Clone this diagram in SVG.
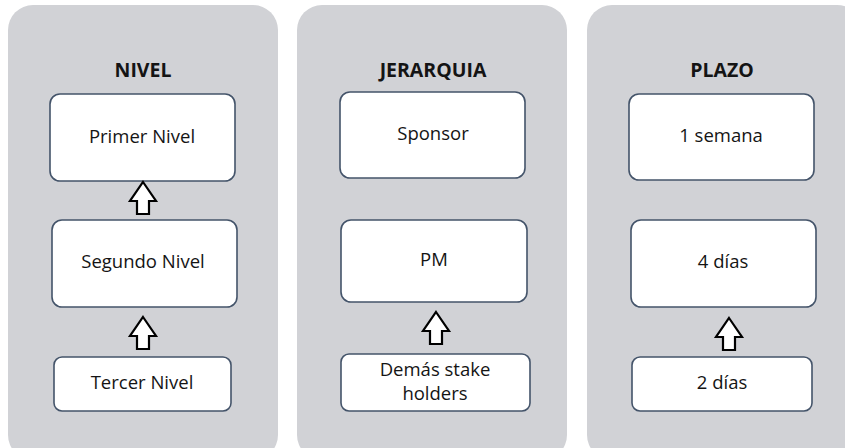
<svg xmlns="http://www.w3.org/2000/svg" width="845" height="448" viewBox="0 0 845 448">
<defs>
<style>
.panel{fill:#d1d2d6;}
.box{fill:#ffffff;stroke:#44546a;stroke-width:1.6;}
.title{font-family:"Open Sans","Liberation Sans",sans-serif;font-weight:bold;font-size:19.5px;fill:#141414;text-anchor:middle;}
.lbl{font-family:"Open Sans","Liberation Sans",sans-serif;font-size:18.5px;fill:#141414;text-anchor:middle;}
.arr{fill:#ffffff;stroke:#000000;stroke-width:2.2;stroke-linejoin:miter;}
</style>
<path id="uparrow" d="M0,0 L13,19 L6,19 L6,32 L-6,32 L-6,19 L-13,19 Z"/>
</defs>
<rect width="845" height="448" fill="#ffffff"/>
<g id="panel-nivel">
<rect class="panel" x="8" y="5" width="270" height="455" rx="25"/>
<text class="title" x="143" y="77">NIVEL</text>
</g>
<g id="panel-jerarquia">
<rect class="panel" x="297" y="5" width="270" height="455" rx="25"/>
<text class="title" x="433" y="77">JERARQUIA</text>
</g>
<g id="panel-plazo">
<rect class="panel" x="587" y="5" width="275" height="455" rx="25"/>
<text class="title" x="722" y="77">PLAZO</text>
</g>
<g id="primer-nivel">
<rect class="box" x="50" y="94" width="185" height="87" rx="10"/>
<text class="lbl" x="142" y="143">Primer Nivel</text>
</g>
<g id="segundo-nivel">
<rect class="box" x="52" y="220" width="185" height="87" rx="10"/>
<text class="lbl" x="143" y="268">Segundo Nivel</text>
</g>
<g id="tercer-nivel">
<rect class="box" x="54" y="357" width="177" height="54" rx="8"/>
<text class="lbl" x="142" y="389">Tercer Nivel</text>
</g>
<g id="sponsor">
<rect class="box" x="340" y="92" width="185" height="86" rx="10"/>
<text class="lbl" x="433" y="140">Sponsor</text>
</g>
<g id="pm">
<rect class="box" x="341" y="220" width="186" height="82" rx="10"/>
<text class="lbl" x="434" y="266">PM</text>
</g>
<g id="demas">
<rect class="box" x="341" y="354" width="189" height="57" rx="8"/>
<text class="lbl" x="435" y="376">Demás stake</text>
<text class="lbl" x="435" y="400">holders</text>
</g>
<g id="semana">
<rect class="box" x="629" y="94" width="185" height="86" rx="10"/>
<text class="lbl" x="721" y="142">1 semana</text>
</g>
<g id="cuatro-dias">
<rect class="box" x="631" y="220" width="185" height="87" rx="10"/>
<text class="lbl" x="723" y="268">4 días</text>
</g>
<g id="dos-dias">
<rect class="box" x="632" y="357" width="180" height="54" rx="8"/>
<text class="lbl" x="722" y="389">2 días</text>
</g>
<g id="connectors">
<use href="#uparrow" class="arr" x="143" y="182"/>
<use href="#uparrow" class="arr" x="143" y="317"/>
<use href="#uparrow" class="arr" x="436" y="312"/>
<use href="#uparrow" class="arr" x="729" y="318"/>
</g>
</svg>
